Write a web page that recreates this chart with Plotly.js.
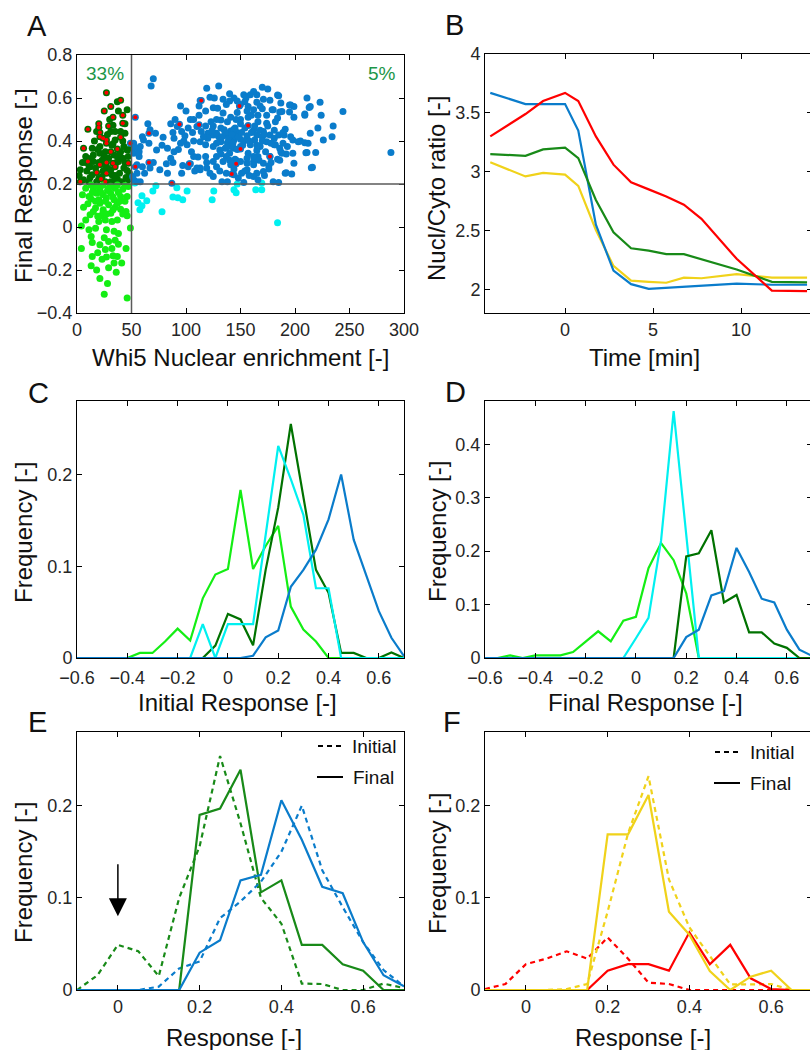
<!DOCTYPE html>
<html>
<head>
<meta charset="utf-8">
<script src="https://cdn.plot.ly/plotly-3.0.1.min.js"></script>
<style>html,body{margin:0;padding:0;overflow:hidden;background:#fff;}</style>
</head>
<body>
<div id="chart"></div>
<script>
// ---------------- DATA ----------------
// Panel A: scatter (Whi5 nuclear enrichment vs final response)
const thresholdX = 50;
const thresholdY = 0.2;
const dkGreenX = [37,46,18,33,40,31,35,44,14,21,33,43,40,46,8,15,21,25,34,42,47,20,38,12,28,43,3,14,32,39,46,6,31,37,41,47,11,18,15,37,31,23,17,11,35,
  5,9,13,19,23,26,29,32,36,39,44,48,24,35,28,16,44,38,30,12,42,48,2,26,34,20,8,45];
const dkGreenY = [0.583,0.545,0.444,0.473,0.444,0.444,0.405,0.436,0.366,0.374,0.387,0.374,0.35,0.358,0.328,0.335,0.343,0.328,0.335,0.32,0.328,0.30,0.305,0.28,0.274,0.274,0.266,0.243,0.243,0.25,0.263,0.22,0.21,0.223,0.21,0.22,0.21,0.21,0.305,0.328,0.266,0.235,0.274,0.285,0.444,
  0.30,0.26,0.32,0.36,0.31,0.35,0.32,0.38,0.30,0.34,0.30,0.25,0.26,0.24,0.43,0.40,0.48,0.54,0.50,0.23,0.40,0.36,0.24,0.285,0.215,0.225,0.30,0.23];
const redOnGreenX = [27,40,31,25,33,42,20,20,10,21,29,42,21,24,27,40,6,27,37,31,10,27,33,47,21,35,18,27,3,22,26];
const redOnGreenY = [0.625,0.59,0.56,0.54,0.51,0.52,0.48,0.463,0.455,0.44,0.47,0.482,0.42,0.413,0.405,0.418,0.366,0.39,0.363,0.35,0.305,0.30,0.297,0.297,0.289,0.28,0.253,0.25,0.21,0.223,0.21];
const ltGreenX = [46,25,28,21,13,18,29,34,36,41,4,14,19,26,27,33,45,14,13,29,35,38,25,49,4,8,20,27,34,37,12,22,31,46,6,10,17,24,29,35,40,45,5,13,20,27,34,40,46,8,15,21,28,35,42,47,13,18,24,31,37,44,18,24,31,11,21,37,15,26,32,17,11,38,21,32,23,37,
  14,22,26,33,38,44,17,29,39,24,33,42,19,27];
const ltGreenY = [-0.33,-0.313,-0.263,-0.24,-0.18,-0.20,-0.19,-0.168,-0.21,-0.168,-0.10,-0.137,-0.12,-0.105,-0.14,-0.134,-0.10,-0.072,-0.044,-0.067,-0.062,-0.08,-0.05,-0.005,0.005,0.033,0.025,-0.013,-0.02,0.033,0.057,0.052,0.064,0.052,0.092,0.108,0.088,0.08,0.103,0.092,0.083,0.072,0.15,0.13,0.127,0.135,0.127,0.142,0.142,0.18,0.173,0.18,0.17,0.18,0.175,0.188,0.195,0.19,0.195,0.19,0.195,0.193,0.157,0.15,0.157,0.142,0.11,0.11,0.072,0.033,0.025,-0.006,-0.013,-0.03,-0.083,-0.10,-0.15,-0.137,
  0.16,0.16,0.12,0.14,0.16,0.12,0.12,0.18,0.12,0.07,0.08,0.06,0.05,0.06];
const cyanX = [53,59.6,56,59.6,64,57.7,69.6,72.4,78,88,91.6,92.5,97,101,124,125.5,144,146,147,164,169.5,169.5,184];
const cyanY = [0.205,0.145,0.113,0.099,0.122,0.08,0.168,0.192,0.071,0.14,0.182,0.136,0.127,0.168,0.127,0.168,0.173,0.159,0.2,0.173,0.173,0.205,0.02];
const blueX = [70,68,130,119,170,175,159,153,165,144,134,140,122,113,112,147,154,171,177,185,211,223,196,199,214,224,244,209,125,129,157,162,168,180,188,174,95,100,104,107,90,86,92,96,99,106,110,114,123,132,141,147,150,157,166,174,182,125,132,135,141,144,147,138,130,125,120,132,138,144,150,156,162,165,170,171,177,181,190,196,191,198,205,189,182,174,168,165,157,150,144,140,145,137,131,125,118,113,107,101,95,89,79,72,67,61,66,73,83,86,82,89,97,104,111,118,113,113,125,128,134,141,150,156,162,166,171,178,184,188,198,211,219,234,235,221,214,209,212,216,199,191,197,185,180,171,165,162,156,151,148,153,144,138,133,125,119,110,102,96,83,76,67,60,55,58,55,52,51,57,52,57,58,52,288,
  153,159,163,173,177,144,141,136,128,120,116,107,162,185,186,193,203,
  184,213,209,199,226,210,215,192,186,176,192,187,181,189,181,187,195,195,186,179,184,
  133,136,139,142,145,148,151,154,160,163,168,172,137,143,147,152,158,165,170,128,124,118,132,146,156,162,167,140,128,119,160,166,170,156,146,138,134,150,175,178,154,158,166,172,176,144,137,131,122,108,105,98,93,88,78,70,62,55,53,60,65,88,102,112,118,126,140,155,162,165,150,137,128];
const blueY = [0.69,0.656,0.656,0.645,0.65,0.642,0.615,0.615,0.615,0.60,0.594,0.586,0.603,0.588,0.563,0.586,0.583,0.594,0.59,0.61,0.60,0.58,0.568,0.56,0.56,0.52,0.537,0.52,0.555,0.552,0.56,0.545,0.563,0.545,0.537,0.52,0.563,0.54,0.50,0.50,0.50,0.48,0.467,0.444,0.424,0.44,0.467,0.444,0.49,0.498,0.51,0.532,0.50,0.51,0.52,0.483,0.49,0.47,0.46,0.452,0.447,0.455,0.44,0.428,0.42,0.428,0.436,0.397,0.392,0.405,0.408,0.424,0.45,0.428,0.42,0.444,0.428,0.413,0.428,0.42,0.455,0.405,0.40,0.39,0.382,0.397,0.374,0.356,0.343,0.374,0.366,0.343,0.315,0.328,0.358,0.374,0.382,0.397,0.40,0.382,0.39,0.413,0.418,0.436,0.452,0.405,0.39,0.358,0.366,0.32,0.294,0.35,0.286,0.294,0.325,0.328,0.274,0.266,0.305,0.328,0.305,0.289,0.305,0.297,0.305,0.328,0.297,0.30,0.315,0.343,0.343,0.346,0.346,0.42,0.47,0.46,0.436,0.392,0.39,0.278,0.297,0.25,0.247,0.207,0.21,0.258,0.25,0.235,0.266,0.25,0.228,0.207,0.243,0.21,0.21,0.235,0.274,0.274,0.28,0.25,0.25,0.266,0.274,0.28,0.289,0.21,0.21,0.22,0.235,0.328,0.343,0.35,0.374,0.39,0.346,
  0.40,0.382,0.405,0.35,0.328,0.424,0.374,0.366,0.436,0.413,0.42,0.328,0.328,0.428,0.366,0.374,0.397,
  0.614,0.556,0.526,0.51,0.405,0.345,0.275,0.252,0.31,0.284,0.34,0.35,0.382,0.44,0.45,0.577,0.568,0.535,0.535,0.545,0.507,
  0.42,0.44,0.41,0.43,0.46,0.42,0.44,0.46,0.44,0.47,0.45,0.43,0.37,0.39,0.36,0.38,0.40,0.38,0.40,0.39,0.45,0.47,0.34,0.31,0.32,0.29,0.31,0.31,0.28,0.30,0.52,0.49,0.55,0.54,0.50,0.49,0.53,0.48,0.47,0.39,0.26,0.24,0.22,0.24,0.27,0.27,0.25,0.26,0.25,0.26,0.35,0.40,0.36,0.30,0.38,0.30,0.25,0.25,0.37,0.42,0.48,0.44,0.46,0.52,0.54,0.60,0.62,0.60,0.63,0.58,0.57,0.57,0.50];
const redOnBlueX = [53.5,49,53.5,66,66,87,94,103,112,114,142,146,149,150,157,177];
const redOnBlueY = [0.51,0.39,0.28,0.436,0.30,0.203,0.478,0.294,0.475,0.588,0.247,0.294,0.563,0.363,0.472,0.328];
const pctLeft = '33%';
const pctRight = '5%';

// Panel B: Nucl/Cyto ratio vs time
const timeMin = [-4.25,-2.25,-1.25,0,0.75,1.75,2.75,3.75,4.75,5.75,6.75,7.75,9.75,11.75,13.75];
const ratioBlue   = [3.67,3.575,3.575,3.575,3.35,2.55,2.16,2.045,2.005,2.015,2.025,2.035,2.05,2.04,2.04];
const ratioRed    = [3.30,3.49,3.60,3.67,3.60,3.30,3.06,2.91,2.85,2.79,2.72,2.60,2.26,1.99,1.985];
const ratioGreen  = [3.15,3.135,3.19,3.205,3.115,2.76,2.485,2.35,2.33,2.30,2.30,2.255,2.17,2.065,2.06];
const ratioYellow = [3.08,2.96,2.99,2.975,2.88,2.505,2.2,2.075,2.065,2.057,2.10,2.095,2.13,2.10,2.10];

// Panels C, D: histograms of initial / final response
const binsCD = [-0.6,-0.55,-0.5,-0.45,-0.4,-0.35,-0.3,-0.25,-0.2,-0.15,-0.1,-0.05,0,0.05,0.1,0.15,0.2,0.25,0.3,0.35,0.4,0.45,0.5,0.55,0.6,0.65,0.7];
const initLtGreen = [0,0,0,0,0,0.0055,0.0055,0.018,0.032,0.019,0.065,0.091,0.097,0.183,0.097,0.122,0.144,0.056,0.031,0.018,0,0,0,0,0,0,0];
const initDkGreen = [0,0,0,0,0,0,0,0,0,0,0,0.0135,0.048,0.042,0.0138,0.096,0.164,0.255,0.176,0.096,0.071,0.0055,0.0055,0,0,0.006,0];
const initCyan    = [0,0,0,0,0,0,0,0,0,0,0.037,0,0.037,0.037,0.037,0.134,0.231,0.195,0.156,0.076,0.076,0,0,0,0,0,0];
const initBlue    = [0,0,0,0,0,0,0,0,0,0,0,0,0,0,0.0025,0.0225,0.03,0.0775,0.096,0.118,0.151,0.2,0.129,0.089,0.051,0.022,0.002];
const finLtGreen  = [0,0,0.005,0,0.005,0.005,0.005,0.011,0.031,0.05,0.031,0.07,0.077,0.168,0.215,0.183,0.121,0,0,0,0,0,0,0,0,0,0];
const finCyan     = [0,0,0,0,0,0,0,0,0,0,0,0,0.037,0.075,0.22,0.462,0.231,0,0,0,0,0,0,0,0,0,0];
const finDkGreen  = [0,0,0,0,0,0,0,0,0,0,0,0,0,0,0,0,0.19,0.196,0.239,0.104,0.118,0.048,0.048,0.027,0.019,0,0];
const finBlue     = [0,0,0,0,0,0,0,0,0,0,0,0,0,0,0,0,0.039,0.053,0.117,0.125,0.206,0.161,0.111,0.104,0.053,0.0156,0.004];

// Panels E, F: initial (dashed) vs final (solid)
const binsEF = [-0.1,-0.05,0,0.05,0.1,0.15,0.2,0.25,0.3,0.35,0.4,0.45,0.5,0.55,0.6,0.65,0.7];
const eGreenInit = [0,0.016,0.049,0.042,0.015,0.1,0.156,0.254,0.181,0.1,0.072,0.007,0.0065,0,0,0.007,0.002];
const eGreenFin  = [0,0,0,0,0,0,0.19,0.197,0.239,0.106,0.119,0.049,0.049,0.028,0.021,0,0];
const eBlueInit  = [0,0,0,0,0.0036,0.0235,0.031,0.078,0.096,0.1175,0.15,0.2,0.13,0.09,0.052,0.0217,0.004];
const eBlueFin   = [0,0,0,0,0,0,0.0405,0.054,0.119,0.125,0.206,0.163,0.112,0.105,0.052,0.016,0.004];
const fRedInit   = [0.001,0.0065,0.028,0.034,0.042,0.034,0.057,0.034,0.008,0.0065,0,0,0,0,0,0,0];
const fRedFin    = [0,0,0,0,0,0,0.021,0.028,0.028,0.021,0.0626,0.028,0.049,0.0127,0.001,0,0];
const fYelInit   = [0,0,0,0,0.001,0.0065,0.085,0.17,0.232,0.12,0.068,0.037,0.006,0.006,0.0065,0,0];
const fYelFin    = [0,0,0,0,0,0,0.169,0.169,0.2116,0.085,0.06,0.0206,0,0.0145,0.021,0,0];

const arrowTipY = 0.08, arrowTailY = 0.138, arrowX = 0;

// ---------------- STYLE ----------------
const FONT = 'Liberation Sans, Arial, Helvetica, sans-serif';
const W = 815, H = 1050;
const C_BLUE = '#0a7ccb', C_DKG = '#007200', C_LTG = '#14ee14', C_CYAN = '#00f0f0', C_RED = '#ff0000';
const C_GREEN = '#188a18', C_YEL = '#f0d21a', C_PCT = '#1c9648';
const DASH = '5px,4px';
const LW = 2.2;

function dx(a, b) { return [a / W, b / W]; }
function dy(top, bot) { return [1 - bot / H, 1 - top / H]; }
function px(x) { return x / W; }
function py(y) { return 1 - y / H; }

function ax(range, dtick, tick0, domain, anchor, standoff) {
  return {
    range: range, dtick: dtick, tick0: tick0, domain: domain, anchor: anchor,
    showline: true, linecolor: '#000', linewidth: 1, mirror: 'ticks',
    ticks: 'inside', ticklen: 5, tickcolor: '#000', tickwidth: 1,
    ticklabelstandoff: standoff || 0,
    showgrid: false, zeroline: false, fixedrange: true,
    tickfont: { family: FONT, size: 18, color: '#262626' }
  };
}

function line(x, y, color, xa, ya, dash) {
  return { type: 'scatter', mode: 'lines', x: x, y: y, xaxis: xa, yaxis: ya,
    line: { color: color, width: LW, dash: dash || 'solid' }, hoverinfo: 'skip' };
}
function pts(x, y, color, size) {
  return { type: 'scatter', mode: 'markers', x: x, y: y, xaxis: 'x', yaxis: 'y',
    marker: { color: color, size: size, line: { width: 0 } }, hoverinfo: 'skip' };
}

const traces = [
  // A
  pts(dkGreenX.concat(redOnGreenX), dkGreenY.concat(redOnGreenY), C_DKG, 7),
  pts(ltGreenX, ltGreenY, C_LTG, 7),
  pts(cyanX, cyanY, C_CYAN, 7),
  pts(blueX.concat(redOnBlueX), blueY.concat(redOnBlueY), C_BLUE, 7),
  pts(redOnGreenX.concat(redOnBlueX), redOnGreenY.concat(redOnBlueY), C_RED, 4),
  // B
  line(timeMin, ratioYellow, C_YEL, 'x2', 'y2'),
  line(timeMin, ratioBlue, C_BLUE, 'x2', 'y2'),
  line(timeMin, ratioGreen, C_GREEN, 'x2', 'y2'),
  line(timeMin, ratioRed, C_RED, 'x2', 'y2'),
  // C
  line(binsCD, initLtGreen, C_LTG, 'x3', 'y3'),
  line(binsCD, initDkGreen, C_DKG, 'x3', 'y3'),
  line(binsCD, initCyan, C_CYAN, 'x3', 'y3'),
  line(binsCD, initBlue, C_BLUE, 'x3', 'y3'),
  // D
  line(binsCD, finLtGreen, C_LTG, 'x4', 'y4'),
  line(binsCD, finCyan, C_CYAN, 'x4', 'y4'),
  line(binsCD, finDkGreen, C_DKG, 'x4', 'y4'),
  line(binsCD, finBlue, C_BLUE, 'x4', 'y4'),
  // E
  line(binsEF, eGreenInit, C_GREEN, 'x5', 'y5', DASH),
  line(binsEF, eBlueInit, C_BLUE, 'x5', 'y5', DASH),
  line(binsEF, eGreenFin, C_GREEN, 'x5', 'y5'),
  line(binsEF, eBlueFin, C_BLUE, 'x5', 'y5'),
  // F
  line(binsEF, fRedInit, C_RED, 'x6', 'y6', DASH),
  line(binsEF, fYelInit, C_YEL, 'x6', 'y6', DASH),
  line(binsEF, fRedFin, C_RED, 'x6', 'y6'),
  line(binsEF, fYelFin, C_YEL, 'x6', 'y6')
];

function txt(x, y, text, size, opts) {
  return Object.assign({ xref: 'paper', yref: 'paper', x: px(x), y: py(y), text: text,
    showarrow: false, xanchor: 'center', yanchor: 'middle',
    font: { family: FONT, size: size, color: '#111' } }, opts || {});
}
const TS = 24;
const annotations = [
  txt(37, 26, 'A', 29), txt(454, 25, 'B', 29), txt(38, 393, 'C', 29),
  txt(455, 392, 'D', 29), txt(37, 722, 'E', 29), txt(452, 722, 'F', 29),
  // axis titles
  txt(240, 357, 'Whi5 Nuclear enrichment [-]', TS),
  txt(23, 186, 'Final Response [-]', TS, { textangle: -90 }),
  txt(644, 357, 'Time [min]', TS),
  txt(437, 189, 'Nucl/Cyto ratio [-]', TS, { textangle: -90 }),
  txt(238, 702, 'Initial Response [-]', TS),
  txt(23, 533, 'Frequency [-]', TS, { textangle: -90 }),
  txt(645, 702, 'Final Response [-]', TS),
  txt(437, 532, 'Frequency [-]', TS, { textangle: -90 }),
  txt(234, 1037, 'Response [-]', TS),
  txt(23, 873, 'Frequency [-]', TS, { textangle: -90 }),
  txt(643, 1037, 'Response [-]', TS),
  txt(437, 864, 'Frequency [-]', TS, { textangle: -90 }),
  // percentages in A
  txt(105, 73, pctLeft, 19, { font: { family: FONT, size: 19, color: C_PCT } }),
  txt(382, 73, pctRight, 19, { font: { family: FONT, size: 19, color: C_PCT } }),
  // legends E and F
  txt(350, 746, 'Initial', 19, { xanchor: 'left' }),
  txt(351, 777, 'Final', 19, { xanchor: 'left' }),
  txt(748, 752, 'Initial', 19, { xanchor: 'left' }),
  txt(748, 783, 'Final', 19, { xanchor: 'left' }),
  // arrow in E
  { xref: 'x5', yref: 'y5', axref: 'x5', ayref: 'y5', x: arrowX, y: arrowTipY, ax: arrowX, ay: arrowTailY,
    text: '', showarrow: true, arrowhead: 2, arrowsize: 2.4, arrowwidth: 1.5, arrowcolor: '#000', standoff: 0, startstandoff: 0 }
];

const shapes = [
  { type: 'line', xref: 'x', yref: 'y', x0: thresholdX, x1: thresholdX, y0: -0.4, y1: 0.8,
    line: { color: '#5a5a5a', width: 1.5 }, layer: 'above' },
  { type: 'line', xref: 'x', yref: 'y', x0: 0, x1: 300, y0: thresholdY, y1: thresholdY,
    line: { color: '#5a5a5a', width: 1.5 }, layer: 'above' },
  // legend samples
  { type: 'line', xref: 'paper', yref: 'paper', x0: px(318), x1: px(343), y0: py(746), y1: py(746), line: { color: '#000', width: 2, dash: DASH } },
  { type: 'line', xref: 'paper', yref: 'paper', x0: px(317), x1: px(343), y0: py(777), y1: py(777), line: { color: '#000', width: 2 } },
  { type: 'line', xref: 'paper', yref: 'paper', x0: px(715), x1: px(740), y0: py(752), y1: py(752), line: { color: '#000', width: 2, dash: DASH } },
  { type: 'line', xref: 'paper', yref: 'paper', x0: px(714), x1: px(740), y0: py(783), y1: py(783), line: { color: '#000', width: 2 } }
];

const layout = {
  width: W, height: H, margin: { l: 0, r: 0, t: 0, b: 0 },
  paper_bgcolor: '#fff', plot_bgcolor: '#fff', showlegend: false,
  font: { family: FONT, color: '#222' },
  xaxis:  ax([0, 300], 50, 0, dx(77, 404), 'y'),
  yaxis:  ax([-0.4, 0.8], 0.2, 0, dy(55, 313), 'x'),
  xaxis2: ax([-4.55, 14.03], 5, 0, dx(485, 812), 'y2'),
  yaxis2: ax([1.8, 4], 0.5, 0, dy(54, 313), 'x2'),
  xaxis3: ax([-0.6, 0.7], 0.2, 0, dx(77, 404), 'y3', 3),
  yaxis3: ax([0, 0.28], 0.1, 0, dy(401, 658), 'x3'),
  xaxis4: ax([-0.6, 0.7], 0.2, 0, dx(485, 812), 'y4', 3),
  yaxis4: ax([0, 0.481], 0.1, 0, dy(401, 658), 'x4'),
  xaxis5: ax([-0.1, 0.7], 0.2, 0, dx(77, 404), 'y5'),
  yaxis5: ax([0, 0.28], 0.1, 0, dy(732, 990), 'x5'),
  xaxis6: ax([-0.1, 0.7], 0.2, 0, dx(485, 812), 'y6'),
  yaxis6: ax([0, 0.28], 0.1, 0, dy(732, 990), 'x6'),
  annotations: annotations,
  shapes: shapes
};

Plotly.newPlot('chart', traces, layout, { staticPlot: true, displayModeBar: false });
</script>
</body>
</html>
